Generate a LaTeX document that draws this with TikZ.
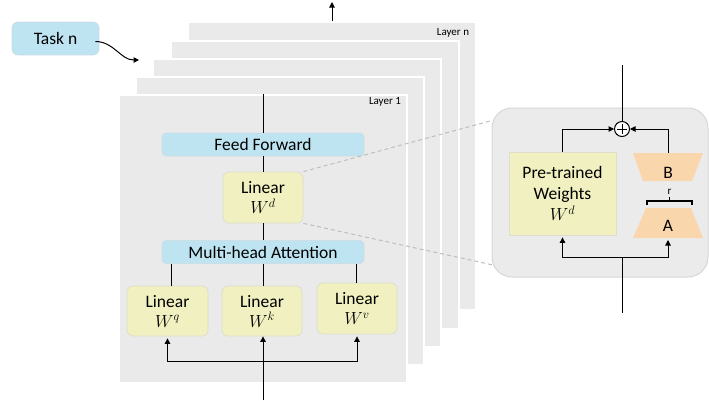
\documentclass[tikz,border=0pt]{standalone}
\usepackage{fix-cm}
\usepackage{fontspec}
\setmainfont{Carlito}
\usetikzlibrary{arrows.meta,calc}
\definecolor{layergray}{RGB}{234,234,234}
\definecolor{boxblue}{RGB}{190,228,242}
\definecolor{blueedge}{RGB}{205,222,230}
\definecolor{boxyel}{RGB}{240,240,192}
\definecolor{yeledge}{RGB}{222,222,205}
\definecolor{boxorange}{RGB}{250,214,172}
\definecolor{rgray}{RGB}{235,235,235}
\definecolor{redge}{RGB}{214,214,214}
\definecolor{dashgray}{RGB}{190,190,190}
\tikzset{
  layerbox/.style={rectangle,fill=layergray,draw=white,line width=1.5pt,minimum width=288,minimum height=288,inner sep=0},
  bluebox/.style={rectangle,rounded corners=4pt,fill=boxblue,draw=blueedge,line width=0.8pt,inner sep=0,font=\fontsize{17.5}{21}\selectfont},
  yelbox/.style={rectangle,rounded corners=6pt,fill=boxyel,draw=yeledge,line width=0.8pt,inner sep=0,align=center,font=\fontsize{17.5}{21}\selectfont},
  traplbl/.style={inner sep=0,font=\fontsize{17.5}{21}\selectfont},
  arr/.style={-{Triangle[length=5.5pt,width=5.5pt]},line width=1pt},
  ln/.style={line width=1pt},
  dashline/.style={dashgray,line width=1pt,dash pattern=on 4pt off 3pt},
  smalllbl/.style={font=\fontsize{11}{13}\selectfont,inner sep=0}
}
\begin{document}
\begin{tikzpicture}[x=1pt,y=-1pt]
\useasboundingbox (0,0) rectangle (709,400);
% layers
\node[layerbox] (Ln) at (332,166) {};
\node[layerbox] (L4) at (315,185) {};
\node[layerbox] (L3) at (297,203) {};
\node[layerbox] (L2) at (280,221) {};
\node[layerbox] (L1) at (263,239) {};
\node[smalllbl] (lbln) at (453,33) {Layer n};
\node[smalllbl] (lbl1) at (385,102) {Layer 1};
% top arrow
\coordinate (topend) at (332,2);
\draw[arr] (Ln.north) -- (topend);
% task
\node[bluebox,rounded corners=6pt,minimum width=87,minimum height=33] (task) at (55.5,38.5) {Task n};
\coordinate (taskend) at (139,60);
\draw[arr] ($(task.east)+(-4,3)$) to[out=0,in=180] (taskend);
% layer 1 contents
\node[bluebox,minimum width=202,minimum height=23] (ff) at (263,144.5) {Feed Forward};
\node[yelbox,minimum width=80,minimum height=51] (ld) at (263,197.5) {Linear\\[-1pt]$W^d$};
\node[bluebox,minimum width=202,minimum height=23] (mha) at (263,252) {Multi-head Attention};
\node[yelbox,minimum width=81,minimum height=50] (wq) at (167.5,311) {Linear\\[-1pt]$W^q$};
\node[yelbox,minimum width=80,minimum height=50] (wk) at (262,311) {Linear\\[-1pt]$W^k$};
\node[yelbox,minimum width=80,minimum height=51] (wv) at (357,308.5) {Linear\\[-1pt]$W^v$};
\draw[ln] (L1.north) -- (ff.north);
\draw[ln] (ff.south) -- (ld.north);
\draw[ln] (ld.south) -- (mha.north);
\draw[ln] (mha.south -| 171,0) -- (wq.north -| 171,0);
\draw[ln] (mha.south) -- (wk.north -| mha.south);
\draw[ln] (mha.south -| 356,0) -- (wv.north -| 356,0);
\coordinate (inbot) at (263,400);
\coordinate (split) at (263,361);
\draw[arr] (inbot) -- (wk.south -| inbot);
\draw[arr] (split) -| ($(wq.south)+(0,2)$);
\draw[arr] (split) -| ($(wv.south)+(0,2)$);
% right detail box
\node[rectangle,rounded corners=20pt,fill=rgray,draw=redge,line width=1pt,minimum width=216,minimum height=169,inner sep=0] (rbox) at (600,192.5) {};
\coordinate (dtop) at (490,121);
\coordinate (dbot) at (493,265);
\draw[dashline] (ld.north east) -- (dtop);
\draw[dashline] (ld.south east) -- (dbot);
\node[yelbox,rounded corners=0pt,minimum width=107,minimum height=83] (pw) at (562.5,193.5) {Pre-trained\\Weights\\$W^d$};
% LoRA matrices
\fill[boxorange] (633,153) -- (703,153) -- (692,181) -- (643,181) -- cycle;
\fill[boxorange] (646,208) -- (691,208) -- (703,238) -- (633,238) -- cycle;
\coordinate (Btop) at (668,153);
\coordinate (Abot) at (668,238);
\node[traplbl] (B) at (668,173) {B};
\node[traplbl] (A) at (668,226) {A};
\draw[line width=1.1pt] (647,204.5) -- (647,201) -- (692,201) -- (692,204.5);
\draw[line width=1.1pt] (669.5,201) -- (669.5,197);
\node[smalllbl] (rlbl) at (669.5,191.5) {r};
\node[circle,draw,fill=white,line width=1pt,minimum size=15,inner sep=0,
  path picture={\draw[line width=1pt] ($(path picture bounding box.center)+(-5,0)$) -- ($(path picture bounding box.center)+(5,0)$);
  \draw[line width=1pt] ($(path picture bounding box.center)+(0,-5)$) -- ($(path picture bounding box.center)+(0,5)$);}] (plus) at (622,129) {};
\coordinate (rtop) at (622,65);
\draw[ln] (rtop) -- (plus.north);
\draw[arr] (pw.north) |- (plus.west);
\draw[arr] (Btop) |- (plus.east);
\coordinate (rbot) at (622,313);
\coordinate (rsplit) at (622,257);
\draw[ln] (rbot) -- (rsplit);
\draw[arr] (rsplit) -| ($(pw.south)+(0,2)$);
\draw[arr] (rsplit) -| ($(Abot)+(0,2)$);
\end{tikzpicture}
\end{document}
